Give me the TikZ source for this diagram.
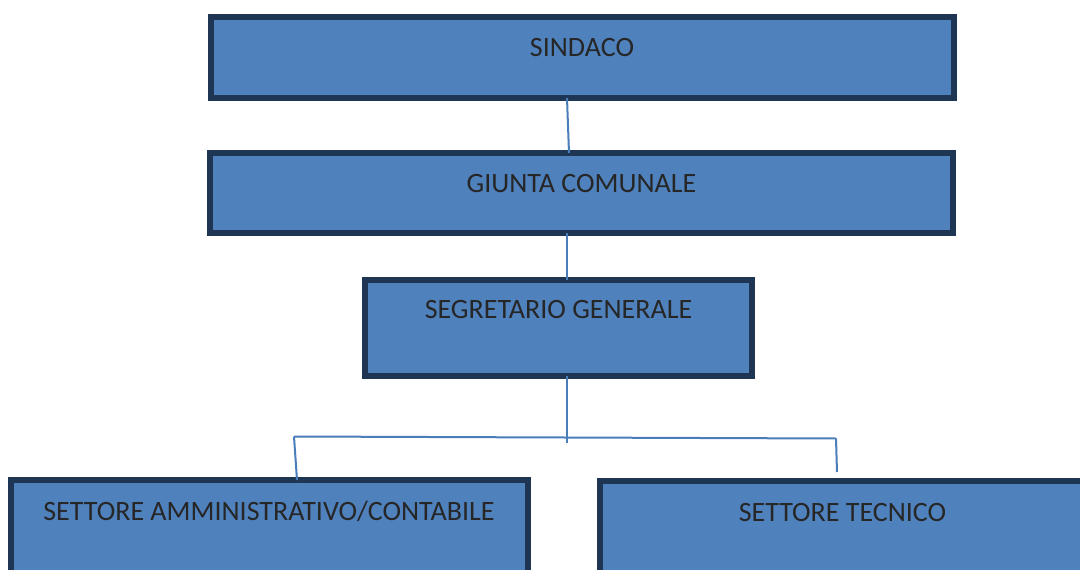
\documentclass[tikz,border=0pt]{standalone}
\usepackage{fontspec}
\setmainfont{Carlito}
\definecolor{boxfill}{RGB}{79,129,189}
\definecolor{boxline}{RGB}{30,54,84}
\definecolor{connline}{RGB}{74,126,187}
\definecolor{txt}{RGB}{38,38,38}
\tikzset{
  orgbox/.style={draw=boxline, fill=boxfill, line width=6pt, rectangle, inner sep=0pt},
  lbl/.style={anchor=base, text=txt, font=\fontsize{28}{32}\selectfont, inner sep=0pt},
  conn/.style={draw=connline, line width=2pt}
}
\begin{document}
\begin{tikzpicture}[x=1pt, y=-1pt]
\useasboundingbox (0,0) rectangle (1080,570);
\clip (0,0) rectangle (1080,570);
\fill[white] (0,0) rectangle (1080,570);
% boxes
\node[orgbox, minimum width=743pt, minimum height=81pt] (sindaco) at (582.5,57.5) {};
\node[orgbox, minimum width=743pt, minimum height=80pt] (giunta) at (581.5,193) {};
\node[orgbox, minimum width=387pt, minimum height=96pt] (segr) at (558.5,328) {};
\node[orgbox, minimum width=517pt, minimum height=120pt] (amm) at (269.5,540) {};
\node[orgbox, minimum width=490pt, minimum height=120pt] (tec) at (845,541) {};
% labels
\node[lbl] (tsindaco) at (582,56.7) {SINDACO};
\node[lbl] (tgiunta) at (581.5,192) {GIUNTA COMUNALE};
\node[lbl] (tsegr) at (558.5,318) {SEGRETARIO GENERALE};
\node[lbl] (tamm) at (269,520.5) {SETTORE AMMINISTRATIVO/CONTABILE};
\node[lbl] (ttec) at (842.5,521.7) {SETTORE TECNICO};
% connectors
\coordinate (jl) at (294,436.5);
\coordinate (jr) at (836,438.5);
\coordinate (jm) at (567,443);
\begin{scope}[on background layer/.try]
\end{scope}
\draw[conn] ([xshift=-15.5pt,yshift=3pt]sindaco.south) -- ([xshift=-12.5pt,yshift=-3pt]giunta.north);
\draw[conn] ([xshift=-14.5pt,yshift=3pt]giunta.south) -- ([xshift=8.5pt,yshift=-3pt]segr.north);
\draw[conn] ([xshift=8.5pt,yshift=3pt]segr.south) -- (jm);
\draw[conn] (jl) -- (jr);
\draw[conn] (jl) -- ([xshift=27.5pt,yshift=-3pt]amm.north);
\draw[conn] (jr) -- (837,472);
\end{tikzpicture}
\end{document}
